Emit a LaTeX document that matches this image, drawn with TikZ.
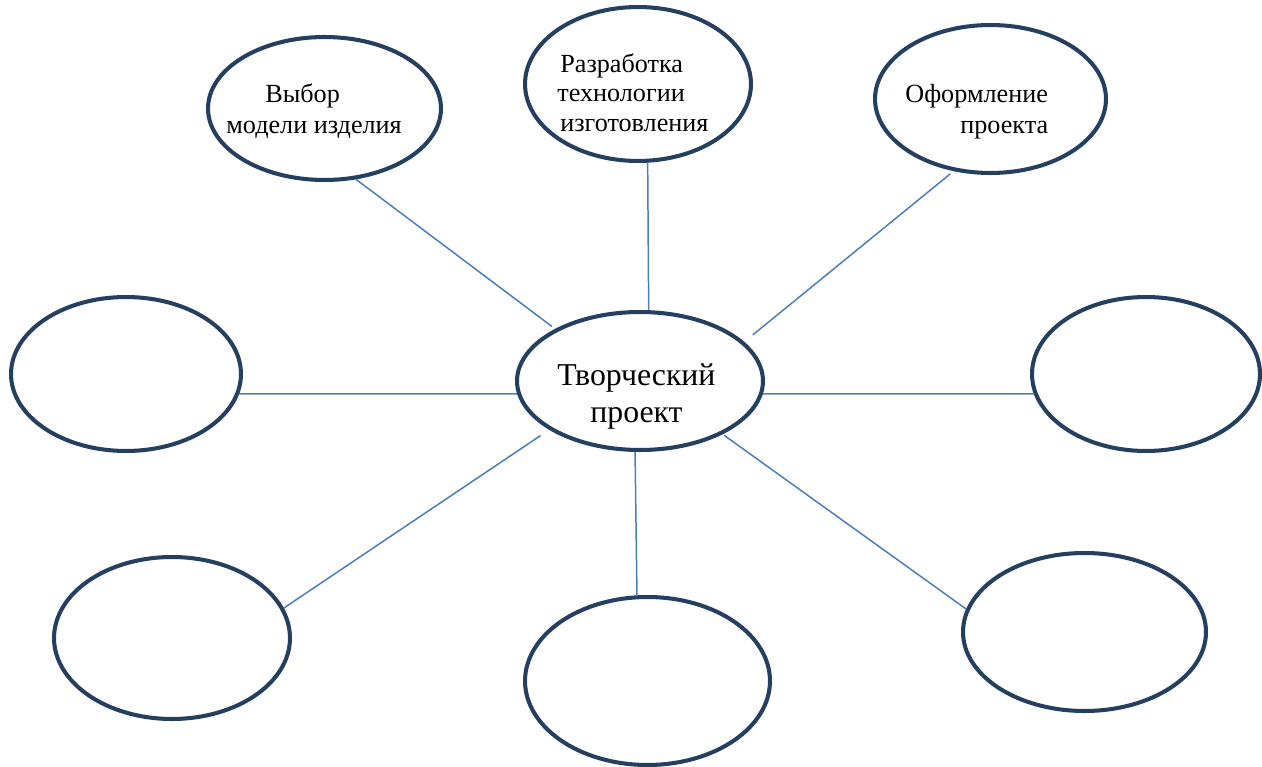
\documentclass[tikz,border=0pt]{standalone}
\usepackage{fontspec}
\setmainfont{Liberation Serif}
\usetikzlibrary{shapes.geometric}
\definecolor{ringcol}{HTML}{243F60}
\definecolor{linkcol}{HTML}{4A7EBB}
\tikzset{
  ring/.style={ellipse, draw=ringcol, line width=2.3pt, inner sep=0pt, fill=white},
  link/.style={draw=linkcol, line width=0.85pt},
  lbl/.style={anchor=base west, inner sep=0pt, font=\fontsize{14.9pt}{17pt}\selectfont},
  biglbl/.style={anchor=base west, inner sep=0pt, font=\fontsize{18.1pt}{21pt}\selectfont}
}
\begin{document}
\begin{tikzpicture}[x=0.02cm,y=-0.02cm]
\useasboundingbox (0,0) rectangle (1262,767);
% ellipses
\node[ring, minimum width=4.66cm, minimum height=2.86cm] (e1) at (324.5,108.5) {};
\node[ring, minimum width=4.52cm, minimum height=3.08cm] (e2) at (638,84) {};
\node[ring, minimum width=4.62cm, minimum height=2.96cm] (e3) at (990.5,99) {};
\node[ring, minimum width=4.92cm, minimum height=2.76cm] (c) at (640,381) {};
\node[ring, minimum width=4.60cm, minimum height=3.08cm] (l) at (126,374) {};
\node[ring, minimum width=4.56cm, minimum height=3.08cm] (r) at (1146,374) {};
\node[ring, minimum width=4.72cm, minimum height=3.24cm] (bl) at (172,638) {};
\node[ring, minimum width=4.90cm, minimum height=3.36cm] (bm) at (647.5,681) {};
\node[ring, minimum width=4.86cm, minimum height=3.16cm] (br) at (1084.5,632) {};
% connectors
\draw[link] (e1.-66.9) -- ([shift={(-4,-2)}]c.148.9);
\draw[link] (e2.-83) -- (c.83.4);
\draw[link] ([shift={(-2,3)}]e3.242.5) -- ([shift={(11,-5)}]c.22.7);
\draw[link] (l.-10.3) -- (c.186.4);
\draw[link] (c.-6.4) -- (r.190.4);
\draw[link] ([shift={(-10,5)}]c.209.1) -- (bl.15.1);
\draw[link] (c.266.8) -- (bm.97.8);
\draw[link] ([shift={(2,1)}]c.-33.4) -- (br.169.7);
% labels
\node[lbl] (t1a) at (265,103) {Выбор};
\node[lbl] (t1b) at (226,133) {модели изделия};
\node[lbl] (t2a) at (560,73) {Разработка};
\node[lbl] (t2b) at (557,102) {технологии};
\node[lbl] (t2c) at (560,132) {изготовления};
\node[lbl] (t3a) at (905,103) {Оформление};
\node[lbl] (t3b) at (960,133) {проекта};
\node[biglbl] (tca) at (557,385) {Творческий};
\node[biglbl] (tcb) at (590,422) {проект};
\end{tikzpicture}
\end{document}
